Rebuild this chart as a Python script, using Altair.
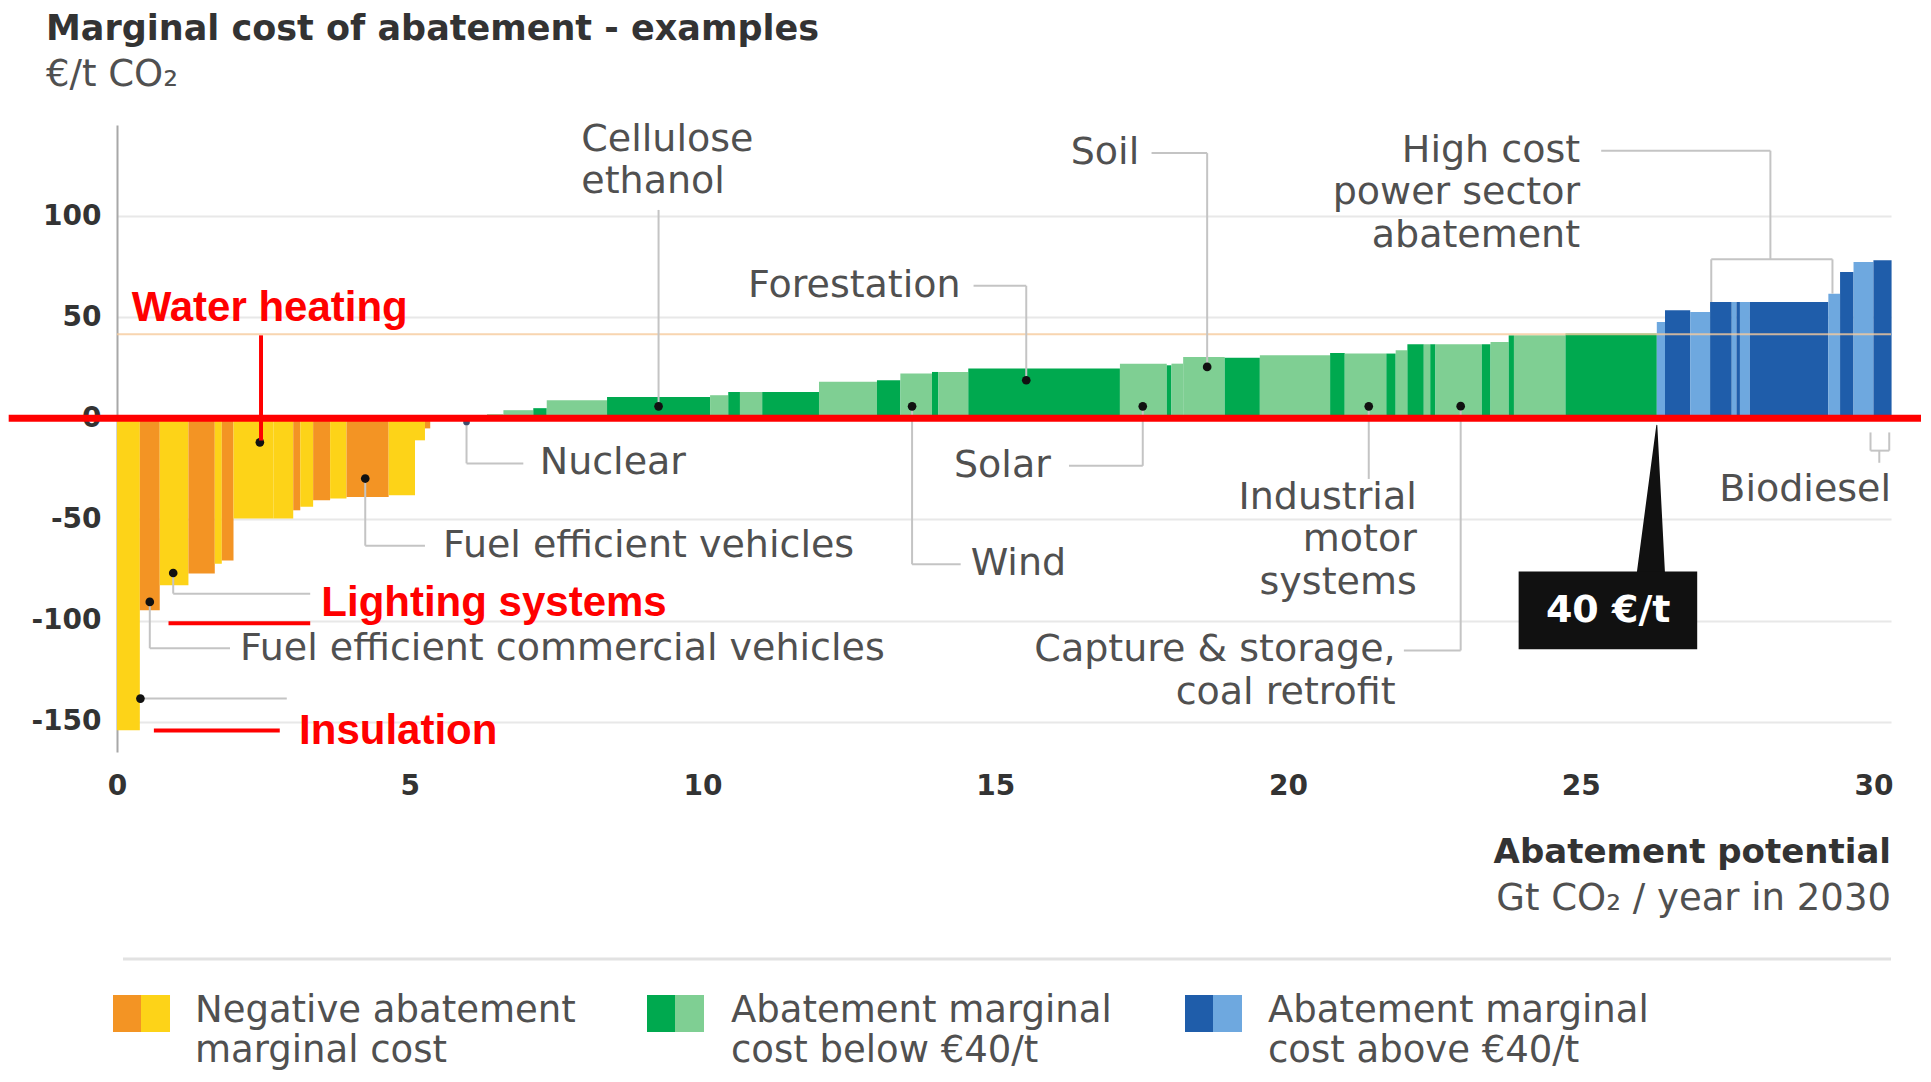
import altair as alt
import pandas as pd

# ---------------- data ----------------
# negative-cost measures (orange / yellow)
neg_start = [0.00, 0.39, 0.73, 1.22, 1.67, 1.79, 1.99, 2.67, 3.01, 3.13, 3.35, 3.64, 3.92, 4.64, 5.09, 5.26]
neg_end   = [0.39, 0.73, 1.22, 1.67, 1.79, 1.99, 2.67, 3.01, 3.13, 3.35, 3.64, 3.92, 4.64, 5.09, 5.26, 5.35]
neg_cost  = [-154.2, -94.9, -82.6, -76.8, -71.9, -70.3, -49.6, -49.6, -45.5, -43.8, -40.5, -39.7, -38.9, -38.1, -10.9, -5.0]
neg_shade = ["L", "D", "L", "D", "L", "D", "L", "L", "D", "L", "D", "L", "D", "L", "L", "D"]

# measures below 40 EUR/t (greens)
low_start = [6.32, 6.60, 7.11, 7.34, 8.37, 10.13, 10.44, 10.64, 11.02, 11.99, 12.98, 13.38, 13.92, 14.03, 14.54,
             17.13, 17.93, 18.01, 18.21, 18.92, 19.52, 20.72, 20.97, 21.68, 21.84, 22.04, 22.32, 22.43, 22.52,
             23.31, 23.46, 23.77, 23.86, 24.74]
low_end   = [6.60, 7.11, 7.34, 8.37, 10.13, 10.44, 10.64, 11.02, 11.99, 12.98, 13.38, 13.92, 14.03, 14.54, 17.13,
             17.93, 18.01, 18.21, 18.92, 19.52, 20.72, 20.97, 21.68, 21.84, 22.04, 22.32, 22.43, 22.52, 23.31,
             23.46, 23.77, 23.86, 24.74, 26.30]
low_cost  = [2.0, 4.0, 5.0, 8.9, 10.5, 11.4, 13.0, 13.0, 13.0, 18.0, 18.8, 22.1, 22.9, 22.9, 24.6,
             27.0, 26.2, 27.0, 30.3, 29.9, 31.1, 32.3, 32.0, 32.0, 33.6, 36.6, 36.6, 36.6, 36.6,
             36.6, 37.7, 41.0, 41.0, 41.9]
low_shade = ["L", "L", "D", "L", "D", "L", "D", "L", "D", "L", "D", "L", "D", "L", "D",
             "L", "D", "L", "L", "D", "L", "D", "L", "D", "L", "D", "L", "D", "L",
             "D", "L", "D", "L", "D"]

# measures above 40 EUR/t (blues)
high_start = [26.30, 26.44, 26.87, 27.21, 27.58, 27.66, 27.72, 27.89, 29.23, 29.43, 29.66, 30.00]
high_end   = [26.44, 26.87, 27.21, 27.58, 27.66, 27.72, 27.89, 29.23, 29.43, 29.66, 30.00, 30.31]
high_cost  = [47.6, 53.4, 52.6, 57.5, 57.5, 57.5, 57.5, 57.5, 61.6, 72.3, 77.3, 78.1]
high_shade = ["L", "D", "L", "D", "L", "D", "L", "D", "L", "D", "L", "D"]

# example measures marked with a dot
ex_name = ["Insulation", "Fuel efficient commercial vehicles", "Lighting systems", "Water heating",
           "Fuel efficient vehicles", "Cellulose ethanol", "Wind", "Forestation", "Solar", "Soil",
           "Industrial motor systems", "Capture & storage, coal retrofit"]
ex_x = [0.40, 0.56, 0.96, 2.44, 4.24, 9.25, 13.58, 15.53, 17.52, 18.62, 21.38, 22.95]
ex_y = [-138.6, -90.8, -76.5, -11.9, -29.8, 5.9, 5.9, 18.8, 5.9, 25.4, 5.9, 6.0]
nuclear_x = [5.97]
nuclear_y = [-1.8]

threshold_value = [41.5]
threshold_label = "40 €/t"

x_ticks = [0, 5, 10, 15, 20, 25, 30]
y_ticks = [-150, -100, -50, 0, 50, 100]

legend_keys = [("negD", "negL"), ("lowD", "lowL"), ("highD", "highL")]
legend_line1 = ["Negative abatement", "Abatement marginal", "Abatement marginal"]
legend_line2 = ["marginal cost", "cost below €40/t", "cost above €40/t"]

color_keys = ["negD", "negL", "lowD", "lowL", "highD", "highL"]
color_vals = ["#F39424", "#FDD318", "#00A94F", "#7FCF93", "#1F5DAA", "#6EA8DF"]

# ---------------- annotation layout (data units) ----------------
# (lines, text x, first line y, align, polylines)
callouts = [
    ([], 0, 0, "left", [[(0.40, -138.6), (2.90, -138.6)]]),
    (["Fuel efficient commercial vehicles"], 2.10, -114.2, "left",
     [[(0.56, -90.8), (0.56, -113.7), (1.93, -113.7)]]),
    ([], 0, 0, "left", [[(0.96, -76.5), (0.96, -86.7), (3.30, -86.7)]]),
    (["Fuel efficient vehicles"], 5.57, -63.0, "left", [[(4.24, -29.8), (4.24, -63.0), (5.26, -63.0)]]),
    (["Nuclear"], 7.22, -22.3, "left", [[(5.97, -1.8), (5.97, -22.3), (6.94, -22.3)]]),
    (["Cellulose", "ethanol"], 7.93, 137.8, "left", [[(9.25, 5.9), (9.25, 103.0)]]),
    (["Forestation"], 14.41, 65.5, "right", [[(15.53, 18.8), (15.53, 65.5), (14.63, 65.5)]]),
    (["Wind"], 14.58, -72.2, "left", [[(13.58, 5.9), (13.58, -72.2), (14.41, -72.2)]]),
    (["Solar"], 15.95, -23.5, "right", [[(17.52, 5.9), (17.52, -23.5), (16.26, -23.5)]]),
    (["Soil"], 17.46, 131.1, "right", [[(18.62, 25.4), (18.62, 131.1), (17.67, 131.1)]]),
    (["Industrial", "motor", "systems"], 22.20, -39.3, "right", [[(21.38, 5.9), (21.38, -30.0)]]),
    (["Capture & storage,", "coal retrofit"], 21.84, -114.8, "right",
     [[(22.95, 6.0), (22.95, -114.8), (21.98, -114.8)]]),
    (["High cost", "power sector", "abatement"], 24.99, 132.3, "right",
     [[(28.24, 78.6), (28.24, 132.3), (25.35, 132.3)],
      [(27.23, 57.5), (27.23, 78.6), (29.30, 78.6), (29.30, 61.6)]]),
    (["Biodiesel"], 30.30, -35.7, "right",
     [[(29.95, -7.0), (29.95, -16.0), (30.27, -16.0), (30.27, -7.0)], [(30.10, -16.0), (30.10, -22.0)]]),
]
LINE_STEP = 21.0

# ---------------- build tables ----------------
rows = []
for grp, st, en, co, sh in [("neg", neg_start, neg_end, neg_cost, neg_shade),
                            ("low", low_start, low_end, low_cost, low_shade),
                            ("high", high_start, high_end, high_cost, high_shade)]:
    assert len(st) == len(en) == len(co) == len(sh)
    for a, b, c, s in zip(st, en, co, sh):
        rows.append({"x0": a, "x1": b, "base": 0.0, "cost": c, "key": grp + s})
bars_df = pd.DataFrame(rows)

seg_rows, txt_rows = [], []
for lines, tx, ty, align, polys in callouts:
    for poly in polys:
        for (xa, ya), (xb, yb) in zip(poly[:-1], poly[1:]):
            seg_rows.append({"x": xa, "y": ya, "x2": xb, "y2": yb})
    for i, ln in enumerate(lines):
        txt_rows.append({"x": tx, "y": ty - i * LINE_STEP, "t": ln, "align": align})
seg_df = pd.DataFrame(seg_rows)
txt_df = pd.DataFrame(txt_rows)

XS = alt.Scale(domain=[0, 30.3], nice=False, zero=False)
YS = alt.Scale(domain=[-165, 145], nice=False, zero=False)


# secondary layers share the scales; they do not set axis=None (that would disable the shared axis)
def X(f):
    return alt.X(f, type="quantitative", scale=XS)


def Y(f):
    return alt.Y(f, type="quantitative", scale=YS)


FONT = "DejaVu Sans"
GRAY_TXT = "#505050"
RED = "#FF0000"

x_axis = alt.Axis(values=x_ticks, title=None, domain=False, ticks=False, tickSize=0, grid=False,
                  labelFont=FONT, labelFontSize=28, labelFontWeight="bold", labelColor="#333333",
                  labelPadding=34, labelBaseline="middle", labelFlush=False, format="d",
                  labelExpr="'' + datum.value")
y_axis = alt.Axis(values=y_ticks, title=None, ticks=False, tickSize=0, domain=True, domainColor="#a8a8a8",
                  domainWidth=2, grid=True, gridColor="#e8e8e8", gridWidth=2, format="d",
                  labelFont=FONT, labelFontSize=28, labelFontWeight="bold", labelColor="#333333",
                  labelPadding=16, labelExpr="'' + datum.value")

bars = alt.Chart(bars_df).mark_rect(strokeWidth=0).encode(
    x=alt.X("x0:Q", scale=XS, axis=x_axis),
    x2="x1",
    y=alt.Y("base:Q", scale=YS, axis=y_axis),
    y2="cost",
    color=alt.Color("key:N", scale=alt.Scale(domain=color_keys, range=color_vals), legend=None),
)

threshold = alt.Chart(pd.DataFrame({"y": threshold_value})).mark_rule(
    color="#F6CB9C", strokeWidth=2, opacity=0.8).encode(y=Y("y"))

segments = alt.Chart(seg_df).mark_rule(color="#C4C4C4", strokeWidth=2).encode(
    x=X("x"), y=Y("y"), x2="x2", y2="y2")

dots = alt.Chart(pd.DataFrame({"x": ex_x, "y": ex_y, "name": ex_name})).mark_circle(
    size=75, color="#111111", opacity=1).encode(x=X("x"), y=Y("y"))
nuke = alt.Chart(pd.DataFrame({"x": nuclear_x, "y": nuclear_y})).mark_circle(
    size=45, color="#3F4E6E", opacity=1).encode(x=X("x"), y=Y("y"))

texts_left = alt.Chart(txt_df[txt_df["align"] == "left"]).mark_text(
    align="left", baseline="middle", font=FONT, fontSize=38, color=GRAY_TXT).encode(
    x=X("x"), y=Y("y"), text="t:N")
texts_right = alt.Chart(txt_df[txt_df["align"] == "right"]).mark_text(
    align="right", baseline="middle", font=FONT, fontSize=38, color=GRAY_TXT).encode(
    x=X("x"), y=Y("y"), text="t:N")

# 40 EUR/t box with pointer
pointer = alt.Chart(pd.DataFrame({"x": [26.30, 26.20], "y": [-3.4, -76.0], "w": [1, 28], "o": [0, 1]})).mark_trail(
    color="#111111").encode(x=X("x"), y=Y("y"), size=alt.Size("w:Q", scale=None, legend=None), order="o:Q")
box = alt.Chart(pd.DataFrame({"x0": [23.94], "x1": [26.99], "y0": [-75.8], "y1": [-114.2]})).mark_rect(
    color="#111111").encode(x=X("x0"), x2="x1", y=Y("y0"), y2="y1")
box_text = alt.Chart(pd.DataFrame({"x": [25.47], "y": [-95.5], "t": [threshold_label]})).mark_text(
    font=FONT, fontSize=38, fontWeight="bold", color="white", align="center", baseline="middle").encode(
    x=X("x"), y=Y("y"), text="t:N")

# red highlight overlays
red_rules = alt.Chart(pd.DataFrame({
    "x": [-1.85, 2.46, 0.88, 0.63], "x2": [31.0, 2.46, 3.30, 2.78],
    "y": [0.0, 41.0, -101.4, -154.4], "y2": [0.0, -11.0, -101.4, -154.4],
    "w": [7, 4, 4, 4]})).mark_rule(color=RED).encode(
    x=X("x"), x2="x2", y=Y("y"), y2="y2", strokeWidth=alt.StrokeWidth("w:Q", scale=None, legend=None))
red_text = alt.Chart(pd.DataFrame({
    "x": [0.25, 3.49, 3.11], "y": [54.4, -91.1, -154.4],
    "t": ["Water heating", "Lighting systems", "Insulation"]})).mark_text(
    align="left", baseline="middle", font="Liberation Sans", fontSize=42, fontWeight="bold", color=RED).encode(
    x=X("x"), y=Y("y"), text="t:N")


# ---------------- page furniture (pixels relative to plot origin) ----------------
def ptext(t, px, py, size, weight="normal", color=GRAY_TXT, align="left"):
    return alt.Chart(pd.DataFrame({"t": [t]})).mark_text(
        align=align, baseline="middle", font=FONT, fontSize=size, fontWeight=weight, color=color).encode(
        x=alt.value(px), y=alt.value(py), text="t:N")


furniture = [
    ptext("Marginal cost of abatement - examples", -71, -96, 35, "bold", "#333333"),
    ptext("€/t CO₂", -71, -50, 37),
    ptext("Abatement potential", 1774, 728, 34, "bold", "#333333", "right"),
    ptext("Gt CO₂ / year in 2030", 1774, 774, 37, "normal", GRAY_TXT, "right"),
    alt.Chart(pd.DataFrame({"a": [0]})).mark_rule(color="#E2E2E2", strokeWidth=3).encode(
        x=alt.value(6), x2=alt.value(1774), y=alt.value(834)),
]
swatch_left = [-4, 530, 1068]
text_left = [78, 614, 1151]
for (kd, kl), l1, l2, sx, tx in zip(legend_keys, legend_line1, legend_line2, swatch_left, text_left):
    cd = color_vals[color_keys.index(kd)]
    cl = color_vals[color_keys.index(kl)]
    furniture.append(alt.Chart(pd.DataFrame({"a": [0]})).mark_rect(color=cd).encode(
        x=alt.value(sx), x2=alt.value(sx + 28), y=alt.value(870), y2=alt.value(907)))
    furniture.append(alt.Chart(pd.DataFrame({"a": [0]})).mark_rect(color=cl).encode(
        x=alt.value(sx + 28), x2=alt.value(sx + 57), y=alt.value(870), y2=alt.value(907)))
    furniture.append(ptext(l1, tx, 886, 37))
    furniture.append(ptext(l2, tx, 926, 37))

chart = alt.layer(
    bars, threshold, segments, dots, nuke, texts_left, texts_right,
    pointer, box, box_text, red_rules, red_text, *furniture
).properties(
    width=1774, height=627,
    padding={"left": 109, "top": 117, "right": 30, "bottom": 322},
    autosize=alt.AutoSizeParams(type="none"),
    background="white",
).configure_view(stroke=None)

chart.save("out.html", embed_options={"renderer": "svg", "actions": False})
